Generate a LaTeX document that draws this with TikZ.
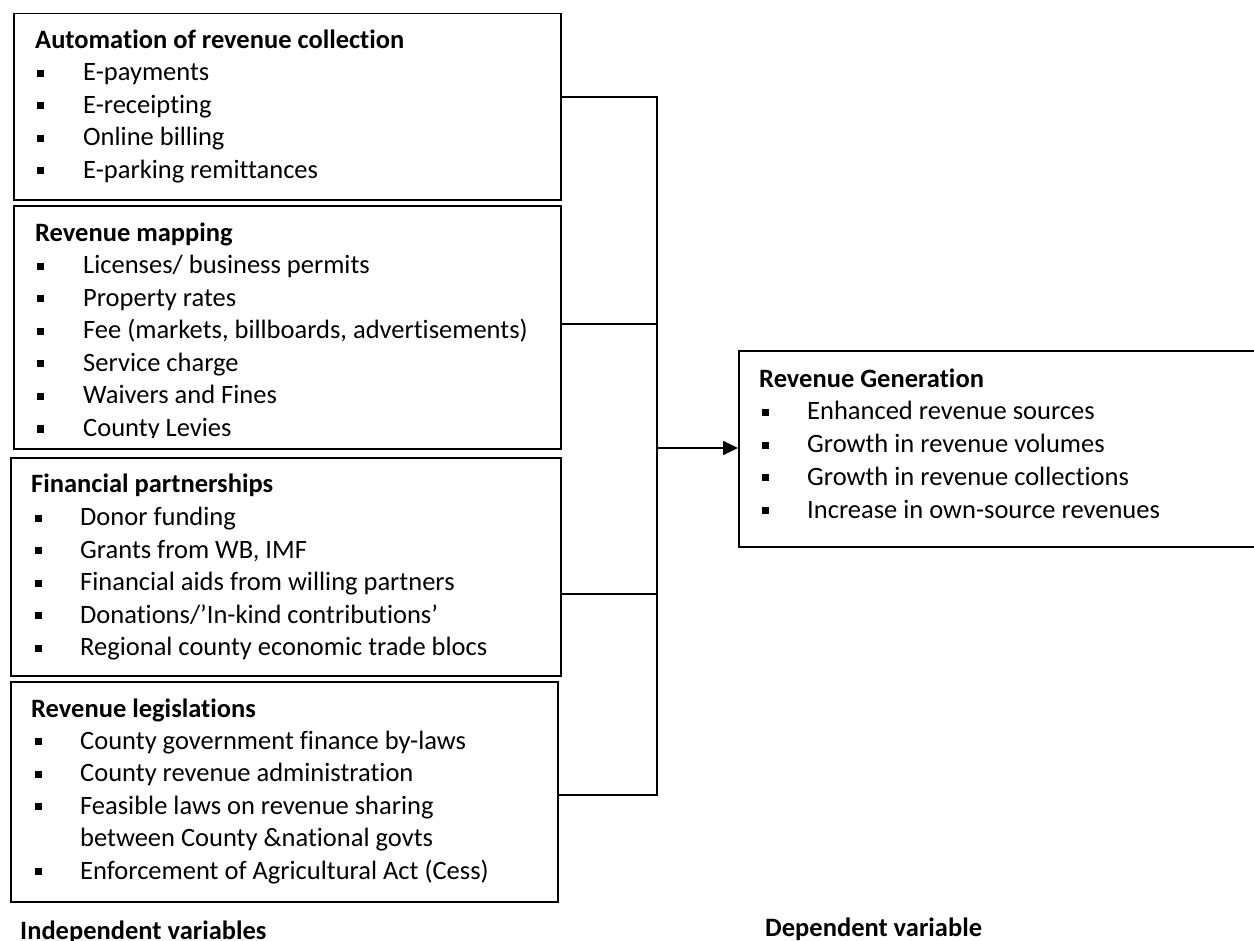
\documentclass[tikz,border=0pt]{standalone}
\usepackage{fontspec}
\setmainfont{Carlito}[Ligatures=CommonOff]
\usetikzlibrary{arrows.meta}
\newcommand\sqbul[1]{\makebox[#1pt][l]{\rule[4pt]{7pt}{7pt}}}
\begin{document}
\begin{tikzpicture}[x=1pt,y=-1pt,
  box/.style={draw, line width=1.8pt, inner sep=0pt, anchor=north west},
  conn/.style={line width=1.8pt},
  txt/.style={anchor=base west, inner sep=0pt, font=\fontsize{26.5}{32}\selectfont},
  ttl/.style={anchor=base west, inner sep=0pt, font=\fontsize{26.5}{32}\selectfont\bfseries}]
\useasboundingbox (0,0) rectangle (1254,941);
% boxes
\node[box, minimum width=547pt, minimum height=186.3pt] (b1) at (13,12.7) {};
\node[box, minimum width=547pt, minimum height=243pt] (b2) at (13,205) {};
\node[box, minimum width=550pt, minimum height=218pt] (b3) at (10,457) {};
\node[box, minimum width=547pt, minimum height=220pt] (b4) at (10,681) {};
\node[box, minimum width=530pt, minimum height=196pt] (r) at (738,350) {};
% box 1
\node[ttl] (t10) at (35,49) {Automation of revenue collection};
\node[txt] (t11) at (37,81) {\sqbul{46}E-payments};
\node[txt] (t12) at (37,113.5) {\sqbul{46}E-receipting};
\node[txt] (t13) at (37,146) {\sqbul{46}Online billing};
\node[txt] (t14) at (37,178.5) {\sqbul{46}E-parking remittances};
% box 2
\node[ttl] (t20) at (35,241.5) {Revenue mapping};
\node[txt] (t21) at (37,274) {\sqbul{46}Licenses/ business permits};
\node[txt] (t22) at (37,306.5) {\sqbul{46}Property rates};
\node[txt] (t23) at (37,339) {\sqbul{46}Fee (markets, billboards, advertisements)};
\node[txt] (t24) at (37,371.5) {\sqbul{46}Service charge};
\node[txt] (t25) at (37,404) {\sqbul{46}Waivers and Fines};
\begin{scope}
\clip (0,0) rectangle (1254,438);
\node[txt] (t26) at (37,436.5) {\sqbul{46}County Levies};
\end{scope}
% box 3
\node[ttl] (t30) at (31,492.5) {Financial partnerships};
\node[txt] (t31) at (34.5,525.5) {\sqbul{45.5}Donor funding};
\node[txt] (t32) at (34.5,558) {\sqbul{45.5}Grants from WB, IMF};
\node[txt] (t33) at (34.5,590.5) {\sqbul{45.5}Financial aids from willing partners};
\node[txt] (t34) at (34.5,623) {\sqbul{45.5}Donations/’In-kind contributions’};
\node[txt] (t35) at (34.5,655.5) {\sqbul{45.5}Regional county economic trade blocs};
% box 4
\node[ttl] (t40) at (31,717) {Revenue legislations};
\node[txt] (t41) at (34.5,749) {\sqbul{45.5}County government finance by-laws};
\node[txt] (t42) at (34.5,781.5) {\sqbul{45.5}County revenue administration};
\node[txt] (t43) at (34.5,814) {\sqbul{45.5}Feasible laws on revenue sharing};
\node[txt] (t44) at (80,846.5) {between County \&national govts};
\node[txt] (t45) at (34.5,879) {\sqbul{45.5}Enforcement of Agricultural Act (Cess)};
% right box
\node[ttl] (t50) at (759,387.5) {Revenue Generation};
\node[txt] (t51) at (762,420) {\sqbul{45}Enhanced revenue sources};
\node[txt] (t52) at (762,452.7) {\sqbul{45}Growth in revenue volumes};
\node[txt] (t53) at (762,485.4) {\sqbul{45}Growth in revenue collections};
\node[txt] (t54) at (762,518) {\sqbul{45}Increase in own-source revenues};
% labels
\node[ttl] (l1) at (20,939) {Independent variables};
\node[ttl] (l2) at (765,936) {Dependent variable};
% connectors
\coordinate (j1) at (657,97);
\coordinate (j2) at (657,324);
\coordinate (j3) at (657,594);
\coordinate (j4) at (657,795);
\coordinate (ja) at (657,448);
\draw[conn] (b1.east |- j1) -- (j1) -- (j4) -- (b4.east |- j4);
\draw[conn] (b2.east |- j2) -- (j2);
\draw[conn] (b3.east |- j3) -- (j3);
\draw[conn, -{Triangle[length=15pt,width=14pt]}] (ja) -- (r.west |- ja);
\end{tikzpicture}
\end{document}
